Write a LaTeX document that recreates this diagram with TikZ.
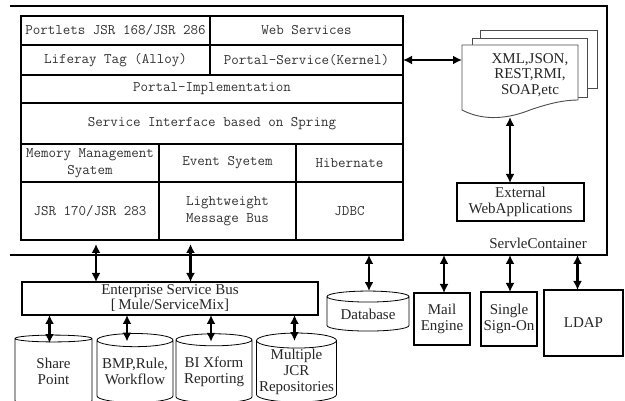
\documentclass[tikz,border=0pt]{standalone}
\usepackage{fontspec}
\setmainfont{Liberation Serif}
\usetikzlibrary{arrows.meta,shapes.geometric,calc}

\begin{document}
\begin{tikzpicture}
		[x=1pt,y=-1pt,
			layerBox/.style={draw,line width=1.2pt,anchor=north west,inner sep=0pt,outer sep=0pt,align=center,text=black!80,font=\ttfamily\fontsize{14.6}{16.5}\selectfont},
			plainBox/.style={draw,line width=1.2pt,inner sep=0pt,outer sep=0pt,align=center,text=black!85,font=\fontsize{15}{16}\selectfont},
			storeDecorate/.style={cylinder,shape border rotate=90,aspect=0.2,draw,line width=0.8pt,inner sep=0pt,outer sep=0pt,align=center,text=black!85,font=\fontsize{15}{16}\selectfont},
			pageDecorate/.style={draw=black!70,line width=0.9pt,fill=white},
			busArrow/.style={{Latex[length=9pt,width=9pt]}-{Latex[length=9pt,width=9pt]},line width=2.2pt}]
		\useasboundingbox (0,0) rectangle (625,401);
		% servlet container
		\draw[line width=1.2pt] (10,255) -- (607,255) -- (607,6) -- (10,6);
		\coordinate (cbot) at (10,255);
		\node[text=black!85,font=\fontsize{15}{16}\selectfont] (container) at (538,243) {ServleContainer};
		% portal stack
		\foreach \nodename/\x/\y/\w/\h/\content in {
				portlets/21/16/189/29/{Portlets JSR 168/JSR 286},
				websvc/210/16/193/29/{Web Services},
				liferay/21/45/189/30/{Liferay Tag (Alloy)},
				kernel/210/45/193/30/{Portal-Service(Kernel)},
				impl/21/75/382/28/{Portal-Implementation},
				spring/21/103/382/41/{Service Interface based on Spring},
				memory/21/144/138/38/{Memory Management\\Syatem},
				event/159/144/137/38/{Event Syetem},
				hibernate/296/144/107/38/{Hibernate},
				jsr/21/182/138/58/{JSR 170/JSR 283},
				bus/159/182/137/58/{Lightweight\\Message Bus},
				jdbc/296/182/107/58/{JDBC}}
			{
				\node[layerBox,minimum width=\w,minimum height=\h] (\nodename) at (\x,\y) {\content};
			}
		% exchange formats
		\draw[pageDecorate] (480,30) rectangle (597,88);
		\draw[pageDecorate] (472,38) rectangle (587,97);
		\draw[pageDecorate] (462,45) -- (578,45) -- (578,100)
			.. controls (565,100) and (550,103) .. (530,110)
			.. controls (510,118) and (485,122) .. (462,110) -- cycle;
		\node[align=center,text=black!85,font=\fontsize{15}{15.5}\selectfont] (formats) at (530,75) {XML,JSON,\\REST,RMI,\\SOAP,etc};
		\coordinate (formatsIn) at (462,60);
		\coordinate (formatsOut) at (510,117);
		\node[plainBox,minimum width=127,minimum height=38] (external) at (520.5,202) {External\\WebApplications};
		\draw[busArrow] (kernel.east) -- (formatsIn);
		\draw[busArrow] (formatsOut) -- (formatsOut |- external.north);
		% enterprise service bus
		\node[plainBox,minimum width=296,minimum height=33,font=\fontsize{15}{15}\selectfont] (esb) at (170,298.5) {Enterprise Service Bus\\\relax[\,Mule/ServiceMix]};
		\foreach \cell/\dx in {jsr/6, bus/-37}
			{
				\draw[busArrow,shorten <=4pt] ($(\cell.south)+(\dx,0)$) -- ($(\cell.south |- esb.north)+(\dx,0)$);
			}
		% repositories
		\foreach \nodename/\x/\w/\content in {
				share/53.5/77/{Share\\Point},
				bmp/135/76/{BMP,Rule,\\Workflow},
				bi/214/76/{BI Xform\\Reporting},
				jcr/296.5/80/{Multiple\\JCR\\Repositories}}
			{
				\node[storeDecorate,minimum width=\w,minimum height=69] (\nodename) at (\x,371.5) {\content};
			}
		\foreach \db/\dx in {share/-4, bmp/-8, bi/-3, jcr/-2}
			{
				\draw[busArrow] ($(\db.north |- esb.south)+(\dx,0)$) -- ($(\db.north)+(\dx,8)$);
			}
		% external services
		\node[storeDecorate,minimum width=82,minimum height=40] (db) at (368,314) {Database};
		\foreach \nodename/\x/\y/\w/\h/\content in {
				mail/442/319/56/52/{Mail\\Engine},
				sso/509/319/56/54/{Single\\Sign-On},
				ldap/583.5/323/79/66/{LDAP}}
			{
				\node[plainBox,minimum width=\w,minimum height=\h] (\nodename) at (\x,\y) {\content};
			}
		\foreach \dev/\dx in {db/1, mail/2, sso/1, ldap/-6}
			{
				\draw[busArrow] ($(\dev.north |- cbot)+(\dx,0)$) -- ($(\dev.north)+(\dx,0)$);
			}
	\end{tikzpicture}
\end{document}
